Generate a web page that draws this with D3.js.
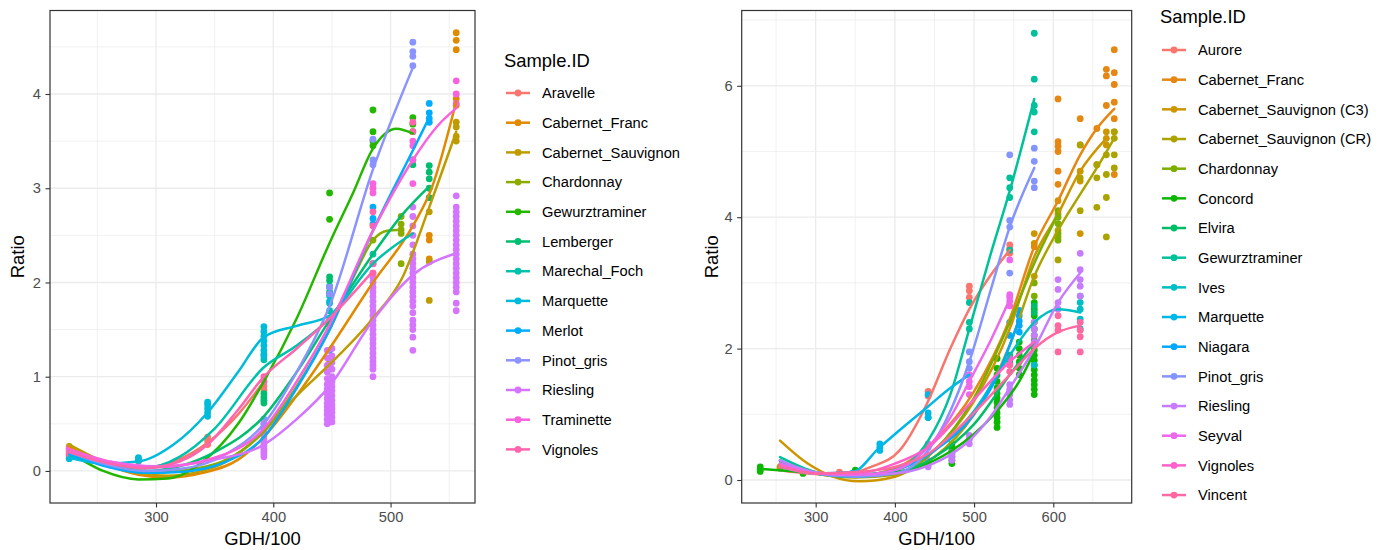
<!DOCTYPE html>
<html><head><meta charset="utf-8">
<script src="https://cdn.jsdelivr.net/npm/d3@7"></script>
<style>body{margin:0;background:#fff;} svg{display:block;font-family:"Liberation Sans",Arial,sans-serif;}</style>
</head><body><svg id="c" width="1390" height="550"></svg>
<script>
// ---------------- LEFT PANEL DATA ----------------
const leftSeries = ["Aravelle","Cabernet_Franc","Cabernet_Sauvignon","Chardonnay","Gewurztraminer","Lemberger","Marechal_Foch","Marquette","Merlot","Pinot_gris","Riesling","Traminette","Vignoles"];
const leftColors = ["#F8766D","#E18A00","#BE9C00","#8CAB00","#24B700","#00BE70","#00C1AB","#00BBDA","#00ACFC","#8B93FF","#D575FE","#F962DD","#FF65AC"];
const leftXTicks = [300,400,500];
const leftXMinor = [250,350,450,550];
const leftYTicks = [0,1,2,3,4];
const leftYMinor = [0.5,1.5,2.5,3.5,4.5];
const leftXDomain = [209.6,572];
const leftYDomain = [-0.34,4.886];
const leftCurves = [
  [[226,0.20],[255,0.09],[285,0.03],[315,0.1],[344,0.3],[370,0.6],[392,0.95]],
  [[226,0.26],[255,0.08],[285,-0.04],[310,-0.07],[340,-0.02],[370,0.12],[392,0.36],[420,0.8],[448,1.3],[485,2.0],[519,2.6],[535,3.0],[556,3.92]],
  [[226,0.28],[255,0.1],[285,-0.02],[310,-0.05],[350,0.04],[392,0.42],[420,0.8],[448,1.13],[485,1.62],[510,2.05],[533,2.8],[556,3.6]],
  [[226,0.22],[260,0.05],[290,-0.02],[320,0.0],[360,0.12],[392,0.42],[420,0.9],[448,1.5],[470,2.1],[485,2.45],[497,2.55],[509,2.56]],
  [[226,0.2],[255,0.0],[285,-0.09],[310,-0.08],[340,0.1],[370,0.5],[392,0.95],[420,1.62],[448,2.42],[468,2.95],[485,3.42],[505,3.63],[519,3.58]],
  [[226,0.18],[260,0.05],[290,0.0],[320,0.05],[350,0.2],[392,0.58],[420,1.05],[448,1.6],[485,2.3],[510,2.72],[533,3.02]],
  [[226,0.15],[260,0.06],[290,0.03],[320,0.15],[350,0.45],[392,1.1],[420,1.33],[448,1.62],[485,2.2],[519,2.52]],
  [[226,0.14],[255,0.08],[285,0.1],[315,0.28],[344,0.62],[370,1.05],[392,1.42],[420,1.54],[448,1.65],[462,1.85]],
  [[226,0.18],[260,0.04],[290,-0.02],[320,-0.01],[360,0.1],[392,0.36],[420,0.88],[448,1.5],[485,2.55],[519,3.4],[533,3.75]],
  [[226,0.2],[260,0.06],[290,0.0],[320,0.02],[360,0.18],[392,0.5],[420,1.05],[448,1.75],[485,3.2],[519,4.28]],
  [[226,0.2],[260,0.1],[300,0.05],[350,0.12],[392,0.28],[420,0.55],[448,0.9],[485,1.6],[519,2.08],[556,2.31]],
  [[226,0.23],[260,0.1],[300,0.04],[350,0.14],[392,0.45],[420,0.95],[448,1.55],[485,2.55],[519,3.3],[540,3.66],[556,3.85]],
  [[226,0.2],[260,0.08],[290,0.03],[320,0.1],[344,0.28],[370,0.65],[392,1.0],[420,1.3],[448,1.62],[485,2.12]]
];
const leftPoints = [
  [[226,[0.17,0.22]],[285,[0.1,0.13]],[344,[0.28,0.32,0.36]],[392,[0.86,0.9,0.95]]],
  [[533,[2.25,2.45,2.5]],[556,[3.88,3.95,4.47,4.57,4.65]]],
  [[226,[0.26]],[448,[1.13,1.17]],[533,[1.81,2.22,2.75]],[556,[3.5,3.55,3.65,3.7]]],
  [[485,[2.45]],[509,[2.2,2.52,2.56,2.62,2.7]]],
  [[448,[2.67,2.95]],[485,[3.45,3.5,3.6,3.83]],[519,[3.6,3.68,3.75]]],
  [[392,[0.72,0.75,0.78,0.82]],[448,[1.9,1.96,2.02,2.06]],[519,[3.25,3.3]],[533,[2.9,3.0,3.1,3.17,3.24]]],
  [[226,[0.14]],[392,[1.18,1.24]],[448,[1.7,1.78,1.86]],[485,[2.2,2.3]]],
  [[226,[0.13,0.16]],[285,[0.11,0.14]],[344,[0.58,0.62,0.66,0.7,0.73]],[392,[1.22,1.28,1.33,1.38,1.43,1.48,1.53]],[448,[1.8,1.88,1.95]]],
  [[448,[1.28]],[485,[2.62,2.68,2.8]],[533,[3.7,3.74,3.8,3.9]]],
  [[392,[0.5,0.55]],[448,[1.88,1.95]],[485,[3.25,3.3,3.52]],[519,[4.3,4.4,4.45,4.55]]],
  [[226,[0.19,0.23]],
   [392,[0.15,0.18,0.21,0.24,0.27,0.3,0.33,0.37,0.41,0.45,0.5]],
   [446,[0.5,0.55,0.6,0.64,0.68,0.72,0.77,0.82,0.87,0.92,0.98,1.05,1.12,1.2,1.28]],
   [450,[0.52,0.57,0.62,0.66,0.7,0.75,0.8,0.85,0.9,0.95,1.0,1.08,1.15,1.22,1.3]],
   [485,[1.0,1.08,1.12,1.16,1.2,1.25,1.3,1.35,1.4,1.45,1.5,1.55,1.6,1.65,1.7,1.75,1.8,1.85,1.9,1.95,2.0,2.05,2.1,2.2]],
   [519,[1.28,1.42,1.5,1.55,1.6,1.68,1.75,1.8,1.85,1.9,1.95,2.0,2.05,2.1,2.15,2.2,2.25,2.3,2.4,2.5,2.6,2.7,2.8]],
   [556,[1.7,1.78,1.9,1.95,2.0,2.05,2.1,2.15,2.2,2.25,2.3,2.35,2.4,2.45,2.5,2.55,2.6,2.65,2.7,2.75,2.8,2.92]]],
  [[226,[0.2,0.24]],[485,[2.95,3.0,3.05]],[519,[3.05,3.3,3.45,3.5]],[556,[3.9,4.0,4.14]]],
  [[226,[0.18]],[392,[0.95,1.0]],[448,[1.55,1.6]],[485,[2.1,2.2,2.6,2.75]],[519,[3.6,3.7]]]
];

// ---------------- RIGHT PANEL DATA ----------------
const rightSeries = ["Aurore","Cabernet_Franc","Cabernet_Sauvignon (C3)","Cabernet_Sauvignon (CR)","Chardonnay","Concord","Elvira","Gewurztraminer","Ives","Marquette","Niagara","Pinot_gris","Riesling","Seyval","Vignoles","Vincent"];
const rightColors = ["#F8766D","#E68613","#CD9600","#ABA300","#7CAE00","#0CB702","#00BE67","#00C19A","#00BFC4","#00B8E7","#00A9FF","#8494FF","#C77CFF","#ED68ED","#FF61CC","#FF68A1"];
const rightXTicks = [300,400,500,600];
const rightXMinor = [250,350,450,550,650];
const rightYTicks = [0,2,4,6];
const rightYMinor = [1,3,5,7];
const rightXDomain = [206.6,699];
const rightYDomain = [-0.35,7.146];
const rightCurves = [
  [[255,0.15],[290,0.1],[330,0.08],[370,0.2],[406,0.45],[440,1.15],[470,2.0],[494,2.6],[520,3.1],[545,3.5]],
  [[255,0.25],[300,0.1],[340,0.05],[400,0.18],[450,0.6],[500,1.35],[545,2.45],[576,3.55],[606,4.25],[634,4.95],[655,5.35],[677,5.65]],
  [[255,0.6],[290,0.25],[320,0.06],[355,-0.02],[400,0.05],[450,0.45],[500,1.2],[545,2.3],[576,3.4],[606,4.05],[634,4.7],[667,5.2]],
  [[255,0.25],[300,0.1],[350,0.04],[400,0.08],[450,0.35],[500,1.0],[545,2.05],[576,3.1],[606,3.8],[634,4.35],[655,4.75],[677,5.2]],
  [[255,0.28],[300,0.12],[340,0.05],[400,0.1],[450,0.45],[500,1.25],[545,2.4],[576,3.3],[606,4.05]],
  [[230,0.17],[284,0.12],[330,0.08],[380,0.1],[430,0.2],[472,0.45],[500,0.7],[529,1.05],[557,1.5],[576,1.95]],
  [[255,0.3],[300,0.1],[350,0.05],[400,0.1],[450,0.35],[500,0.85],[545,1.6],[576,2.1]],
  [[255,0.35],[300,0.12],[340,0.05],[400,0.15],[442,0.6],[470,1.3],[494,2.3],[520,3.4],[545,4.4],[576,5.8]],
  [[255,0.3],[300,0.1],[350,0.05],[400,0.15],[450,0.45],[500,1.05],[545,1.9],[576,2.4],[606,2.6],[634,2.55]],
  [[255,0.2],[300,0.1],[346,0.12],[381,0.5],[410,0.8],[442,1.12],[470,1.4],[494,1.6]],
  [[255,0.2],[300,0.1],[350,0.08],[400,0.15],[450,0.45],[500,1.0],[530,1.6],[557,2.45]],
  [[255,0.25],[300,0.1],[350,0.05],[400,0.1],[442,0.45],[470,1.05],[494,1.8],[520,2.85],[545,3.85],[576,4.75]],
  [[255,0.3],[300,0.12],[350,0.08],[400,0.1],[442,0.22],[472,0.4],[494,0.6],[520,0.95],[545,1.4],[576,2.0],[606,2.7],[634,3.15]],
  [[255,0.25],[300,0.1],[350,0.08],[400,0.15],[442,0.5],[470,0.95],[494,1.5],[520,2.1],[545,2.75]],
  [[255,0.22],[300,0.1],[350,0.1],[400,0.25],[442,0.5],[494,1.15],[545,1.8],[576,2.1]],
  [[255,0.2],[300,0.1],[350,0.12],[400,0.2],[442,0.4],[494,0.95],[545,1.6],[576,2.0],[606,2.25],[634,2.35]]
];
const rightPoints = [
  [[255,[0.18]],[330,[0.12]],[442,[1.28,1.35]],[494,[2.78,2.88,2.95]],[545,[3.45,3.52,3.58]]],
  [[576,[3.55]],[606,[4.5,4.7,5.0,5.08,5.15,5.8]],[634,[5.1,5.5]],[655,[5.35]],[667,[5.7,6.15,6.25]],[677,[4.65,5.3,5.5,5.75,6.02,6.2,6.55]]],
  [[255,[0.2]],[576,[3.1,3.6,3.75]],[606,[4.05,4.25]],[634,[3.75,4.55,4.7]],[655,[4.8]],[667,[5.1,5.2,5.3]]],
  [[606,[3.35,3.7,3.8]],[634,[4.1,4.6,5.1]],[655,[4.15,4.6,4.8]],[667,[3.7,4.3,4.65,4.95]],[677,[4.75,4.95,5.2,5.3]]],
  [[576,[2.8,3.0]],[606,[3.65,3.75,3.9,4.0,4.1]]],
  [[230,[0.13,0.16,0.2]],[284,[0.1]],[350,[0.15]],[472,[0.25,0.3,0.35,0.4,0.45,0.5,0.55]],
   [529,[0.8,0.88,0.95,1.02,1.1,1.18,1.25,1.32,1.4,1.5,1.6,1.7,1.85]],
   [557,[1.6,1.7,1.8,1.9,2.0,2.1]],
   [576,[1.3,1.38,1.45,1.52,1.6,1.68,1.75,1.82,1.9,1.98,2.05,2.12,2.2,2.3,2.4,2.5,2.6,2.7]]],
  [[545,[1.8,1.9]],[576,[2.55,2.65]]],
  [[442,[0.95]],[494,[2.3,2.4,2.7]],[545,[3.5,4.3,4.45,4.6]],[576,[5.3,5.6,5.7,6.1,6.8]]],
  [[576,[1.75]],[634,[2.3,2.45,2.6,2.7,2.8]]],
  [[346,[0.1]],[381,[0.45,0.5,0.55]],[442,[0.95,1.02,1.3]]],
  [[545,[2.2,2.4]],[557,[2.25,2.35,2.42,2.5,2.58]]],
  [[494,[1.7,1.8,1.95]],[545,[3.15,3.85,3.95,4.95]],[576,[4.45,4.55,4.85,5.05]]],
  [[442,[0.2,0.25,0.3]],[472,[0.3,0.36,0.42]],[494,[0.55,0.62,0.68]],[545,[1.15,1.22,1.3,1.38,1.45]],[576,[2.1,2.2,2.3,2.4]],[606,[2.6,2.7,2.9,3.05]],[634,[2.8,2.95,3.05,3.2,3.45]]],
  [[442,[0.5,0.55]],[494,[1.3,1.42,1.5,1.6]],[545,[2.65,2.72,2.78,2.82,3.35]]],
  [[545,[1.75,1.85]],[576,[2.05]]],
  [[545,[1.65,1.75]],[606,[1.95,2.28,2.35,2.5]],[634,[1.95,2.18,2.28,2.4]]]
];

const legendTitle = "Sample.ID";
const xTitle = "GDH/100";
const yTitle = "Ratio";

// ---------------- DRAWING ----------------
const svg = d3.select("#c");
const FS_SMALL = 14.7, FS_BIG = 18.4;
const LW = 2.5, PR = 3.4;

function drawPanel(o) {
  const g = svg.append("g");
  const x = d3.scaleLinear().domain(o.xDomain).range([o.x0, o.x1]);
  const y = d3.scaleLinear().domain(o.yDomain).range([o.y1, o.y0]);

  g.append("rect").attr("x", o.x0).attr("y", o.y0).attr("width", o.x1 - o.x0).attr("height", o.y1 - o.y0).attr("fill", "#fff");
  g.selectAll(null).data(o.xMinor).join("line")
    .attr("x1", d => x(d)).attr("x2", d => x(d)).attr("y1", o.y0).attr("y2", o.y1)
    .attr("stroke", "#EBEBEB").attr("stroke-width", 0.7);
  g.selectAll(null).data(o.yMinor).join("line")
    .attr("y1", d => y(d)).attr("y2", d => y(d)).attr("x1", o.x0).attr("x2", o.x1)
    .attr("stroke", "#EBEBEB").attr("stroke-width", 0.7);
  g.selectAll(null).data(o.xTicks).join("line")
    .attr("x1", d => x(d)).attr("x2", d => x(d)).attr("y1", o.y0).attr("y2", o.y1)
    .attr("stroke", "#EBEBEB").attr("stroke-width", 1.3);
  g.selectAll(null).data(o.yTicks).join("line")
    .attr("y1", d => y(d)).attr("y2", d => y(d)).attr("x1", o.x0).attr("x2", o.x1)
    .attr("stroke", "#EBEBEB").attr("stroke-width", 1.3);

  o.series.forEach((s, i) => {
    const pts = o.points[i].flatMap(([px, ys]) => ys.map(v => [px, v]));
    g.append("g").selectAll("circle").data(pts).join("circle")
      .attr("cx", d => x(d[0])).attr("cy", d => y(d[1])).attr("r", PR)
      .attr("fill", o.colors[i]);
  });
  const line = d3.line().x(d => x(d[0])).y(d => y(d[1])).curve(d3.curveMonotoneX);
  o.series.forEach((s, i) => {
    g.append("path").datum(o.curves[i]).attr("d", line)
      .attr("fill", "none").attr("stroke", o.colors[i]).attr("stroke-width", LW)
      .attr("stroke-linecap", "round").attr("stroke-linejoin", "round");
  });
  g.append("rect").attr("x", o.x0).attr("y", o.y0).attr("width", o.x1 - o.x0).attr("height", o.y1 - o.y0)
    .attr("fill", "none").attr("stroke", "#333333").attr("stroke-width", 1.2);

  const ax = g.append("g").attr("transform", `translate(0,${o.y1})`)
    .call(d3.axisBottom(x).tickValues(o.xTicks).tickSize(4.5).tickPadding(4).tickFormat(d3.format("d")));
  const ay = g.append("g").attr("transform", `translate(${o.x0},0)`)
    .call(d3.axisLeft(y).tickValues(o.yTicks).tickSize(4.5).tickPadding(4.5).tickFormat(d3.format("d")));
  [ax, ay].forEach(a => {
    a.select(".domain").remove();
    a.selectAll(".tick line").attr("stroke", "#333333").attr("stroke-width", 1.1);
    a.selectAll(".tick text").attr("fill", "#4D4D4D").style("font-size", FS_SMALL + "px")
      .style("font-family", '"Liberation Sans",Arial,sans-serif');
  });

  g.append("text").attr("x", (o.x0 + o.x1) / 2).attr("y", 544.5).attr("text-anchor", "middle")
    .style("font-size", FS_BIG + "px").attr("fill", "#000").text(xTitle);
  g.append("text").attr("transform", `translate(${o.ratioX},${(o.y0 + o.y1) / 2}) rotate(-90)`)
    .attr("text-anchor", "middle").attr("dy", "0.35em")
    .style("font-size", FS_BIG + "px").attr("fill", "#000").text(yTitle);

  const lg = svg.append("g");
  lg.append("text").attr("x", o.legX - 2).attr("y", o.legTitleY).attr("dy", "0.36em")
    .style("font-size", FS_BIG + "px").attr("fill", "#000").text(legendTitle);
  o.series.forEach((s, i) => {
    const cy = o.legY0 + i * o.legStep;
    lg.append("line").attr("x1", o.legX).attr("x2", o.legX + 24).attr("y1", cy).attr("y2", cy)
      .attr("stroke", o.colors[i]).attr("stroke-width", LW);
    lg.append("circle").attr("cx", o.legX + 12).attr("cy", cy).attr("r", PR).attr("fill", o.colors[i]);
    lg.append("text").attr("x", o.legX + 36).attr("y", cy).attr("dy", "0.36em")
      .style("font-size", FS_SMALL + "px").attr("fill", "#000").text(s);
  });
}

drawPanel({
  x0: 50, x1: 475, y0: 10.5, y1: 503,
  xDomain: leftXDomain, yDomain: leftYDomain,
  xTicks: leftXTicks, xMinor: leftXMinor, yTicks: leftYTicks, yMinor: leftYMinor,
  series: leftSeries, colors: leftColors, curves: leftCurves, points: leftPoints,
  ratioX: 18, legX: 506, legTitleY: 60, legY0: 93, legStep: 29.7
});
drawPanel({
  x0: 741.7, x1: 1131.7, y0: 10.5, y1: 503,
  xDomain: rightXDomain, yDomain: rightYDomain,
  xTicks: rightXTicks, xMinor: rightXMinor, yTicks: rightYTicks, yMinor: rightYMinor,
  series: rightSeries, colors: rightColors, curves: rightCurves, points: rightPoints,
  ratioX: 711.5, legX: 1162, legTitleY: 16.7, legY0: 50, legStep: 29.67
});
</script>
</body></html>
